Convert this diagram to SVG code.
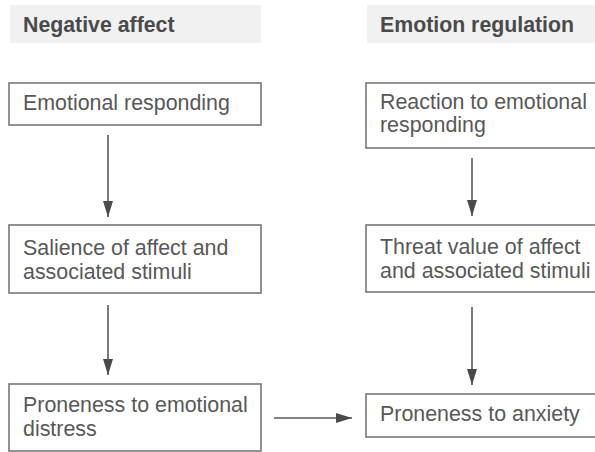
<svg xmlns="http://www.w3.org/2000/svg" width="595" height="452" viewBox="0 0 595 452">
<style>
.band{fill:#f1f1f1}
.hdr{font-family:"Liberation Sans",Arial,sans-serif;font-weight:bold;font-size:21.3px;fill:#4a4a4a}
.box{fill:#fff;stroke:#777;stroke-width:1.6}
.txt{font-family:"Liberation Sans",Arial,sans-serif;font-size:21.4px;fill:#585858}
.conn{stroke:#5a5a5a;stroke-width:1.6;fill:none}
</style>
<defs>
<marker id="ah" viewBox="0 0 16 10" refX="16" refY="5" markerWidth="16" markerHeight="10" markerUnits="userSpaceOnUse" orient="auto">
<path d="M0,0 L16,5 L0,10 z" fill="#4a4a4a"/>
</marker>
</defs>
<rect width="595" height="452" fill="#fff"/>
<g id="header-negative">
<rect class="band" x="10" y="5" width="251" height="38"/>
<text class="hdr" x="23" y="31.5">Negative affect</text>
</g>
<g id="header-regulation">
<rect class="band" x="367" y="5" width="228" height="38"/>
<text class="hdr" x="380" y="31.5">Emotion regulation</text>
</g>
<g id="n1">
<rect class="box" x="9" y="83" width="252" height="42"/>
<text class="txt" x="23" y="110">Emotional responding</text>
</g>
<g id="n2">
<rect class="box" x="9" y="225" width="252" height="68"/>
<text class="txt" x="23" y="255">Salience of affect and</text>
<text class="txt" x="23" y="279">associated stimuli</text>
</g>
<g id="n3">
<rect class="box" x="9" y="384" width="252" height="67"/>
<text class="txt" x="23" y="412">Proneness to emotional</text>
<text class="txt" x="23" y="436">distress</text>
</g>
<g id="n4">
<rect class="box" x="366" y="83" width="240" height="65"/>
<text class="txt" x="380" y="108.5">Reaction to emotional</text>
<text class="txt" x="380" y="132">responding</text>
</g>
<g id="n5">
<rect class="box" x="366" y="225" width="240" height="67"/>
<text class="txt" x="380" y="254">Threat value of affect</text>
<text class="txt" x="380" y="278">and associated stimuli</text>
</g>
<g id="n6">
<rect class="box" x="366" y="394" width="240" height="43"/>
<text class="txt" x="380" y="421">Proneness to anxiety</text>
</g>
<g id="connectors">
<line class="conn" x1="108" y1="135" x2="108" y2="217" marker-end="url(#ah)"/>
<line class="conn" x1="108" y1="305" x2="108" y2="375" marker-end="url(#ah)"/>
<line class="conn" x1="472" y1="158" x2="472" y2="216" marker-end="url(#ah)"/>
<line class="conn" x1="472" y1="307" x2="472" y2="385" marker-end="url(#ah)"/>
<line class="conn" x1="274" y1="418" x2="352" y2="418" marker-end="url(#ah)"/>
</g>
</svg>
